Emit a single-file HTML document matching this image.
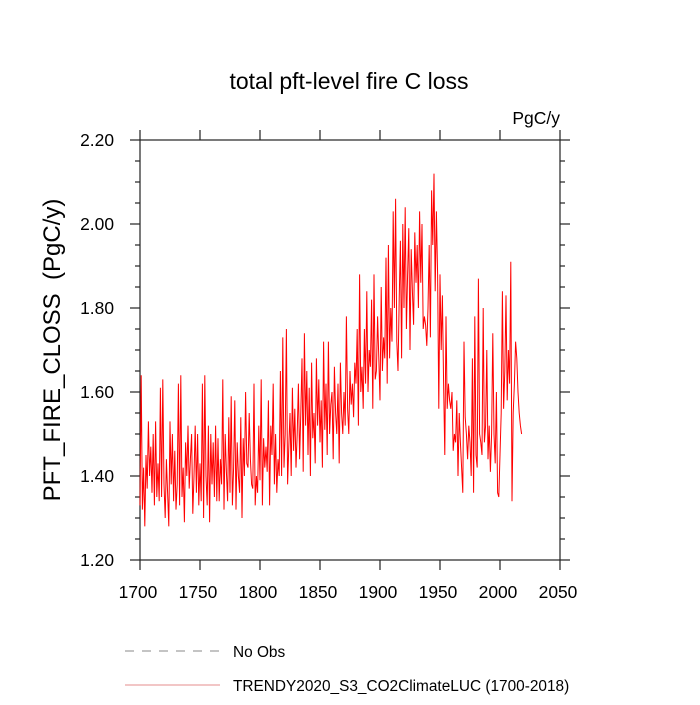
<!DOCTYPE html>
<html><head><meta charset="utf-8"><style>
html,body{margin:0;padding:0;background:#fff;}
svg text{font-family:"Liberation Sans",Arial,sans-serif;}
</style></head><body>
<svg id="chart" width="700" height="700" xmlns="http://www.w3.org/2000/svg">
<text x="349" y="89" font-size="23" text-anchor="middle">total pft-level fire C loss</text>
<text x="560" y="124" font-size="17.5" text-anchor="end">PgC/y</text>
<text transform="translate(60,350) rotate(-90)" font-size="24" text-anchor="middle">PFT_FIRE_CLOSS&#160;&#160;(PgC/y)</text>
<g id="axes"></g>
<g id="series"></g>
<g>
<line x1="125" y1="651" x2="220" y2="651" stroke="#888" stroke-width="1" stroke-dasharray="9,8"/>
<text x="233" y="657" font-size="15.4">No Obs</text>
<line x1="125" y1="685" x2="220" y2="685" stroke="#d66" stroke-width="0.8"/>
<text x="233" y="691" font-size="15.4">TRENDY2020_S3_CO2ClimateLUC (1700-2018)</text>
</g>
</svg>
<script>
const startYear = 1700;
const values = [
1.33,1.64,1.32,1.42,1.28,1.45,1.37,1.53,1.40,1.47,
1.36,1.50,1.33,1.53,1.35,1.43,1.34,1.61,1.35,1.63,
1.38,1.30,1.44,1.36,1.28,1.53,1.38,1.50,1.34,1.46,
1.32,1.38,1.62,1.33,1.64,1.35,1.42,1.29,1.48,1.40,
1.52,1.37,1.44,1.50,1.31,1.40,1.52,1.36,1.50,1.33,
1.43,1.34,1.62,1.30,1.64,1.40,1.33,1.52,1.29,1.50,
1.38,1.48,1.35,1.52,1.34,1.49,1.34,1.44,1.38,1.63,
1.32,1.50,1.41,1.34,1.54,1.36,1.59,1.33,1.42,1.58,
1.32,1.48,1.40,1.36,1.54,1.30,1.49,1.40,1.60,1.43,
1.42,1.55,1.44,1.38,1.37,1.62,1.33,1.40,1.36,1.52,
1.39,1.63,1.33,1.49,1.42,1.47,1.41,1.58,1.33,1.52,
1.45,1.62,1.38,1.50,1.36,1.44,1.40,1.65,1.40,1.73,
1.42,1.50,1.75,1.38,1.47,1.55,1.40,1.61,1.46,1.56,
1.42,1.50,1.62,1.44,1.55,1.68,1.41,1.74,1.52,1.65,
1.45,1.61,1.40,1.67,1.49,1.55,1.43,1.68,1.52,1.63,
1.48,1.58,1.42,1.72,1.51,1.62,1.45,1.72,1.50,1.57,
1.60,1.44,1.66,1.55,1.50,1.62,1.43,1.67,1.55,1.50,
1.60,1.52,1.78,1.56,1.50,1.65,1.57,1.62,1.54,1.67,
1.62,1.75,1.52,1.88,1.60,1.66,1.56,1.75,1.62,1.84,
1.60,1.70,1.66,1.82,1.56,1.88,1.63,1.65,1.78,1.68,
1.58,1.85,1.65,1.73,1.68,1.92,1.62,1.95,1.68,1.80,
1.72,2.03,1.80,2.06,1.72,1.65,1.82,1.96,1.68,2.00,
1.80,2.04,1.75,1.88,1.99,1.70,1.94,1.84,1.76,1.98,
1.86,1.95,1.80,2.03,1.86,2.00,1.75,1.78,1.76,1.71,
1.80,1.95,1.73,2.08,1.95,2.12,1.84,2.03,1.88,1.56,
1.88,1.70,1.83,1.62,1.45,1.78,1.56,1.62,1.58,1.56,
1.60,1.46,1.50,1.48,1.58,1.40,1.55,1.48,1.42,1.36,
1.72,1.54,1.50,1.44,1.52,1.48,1.40,1.68,1.36,1.78,
1.45,1.42,1.87,1.50,1.48,1.45,1.80,1.48,1.52,1.70,
1.44,1.52,1.41,1.50,1.74,1.50,1.43,1.60,1.36,1.35,
1.45,1.55,1.84,1.56,1.65,1.83,1.58,1.70,1.62,1.91,
1.34,1.55,1.62,1.72,1.68,1.60,1.55,1.52,1.50
];
const xTicks = [1700,1750,1800,1850,1900,1950,2000,2050];
const yTicks = [1.20,1.40,1.60,1.80,2.00,2.20];
const xMin=1700,xMax=2050,yMin=1.2,yMax=2.2;
const L=140,R=560,T=140,B=560;
const sx=v=>L+(v-xMin)/(xMax-xMin)*(R-L);
const sy=v=>B-(v-yMin)/(yMax-yMin)*(B-T);
const NS="http://www.w3.org/2000/svg";
const axes=document.getElementById('axes');
function mk(tag,attrs,parent){const e=document.createElementNS(NS,tag);for(const k in attrs)e.setAttribute(k,attrs[k]);parent.appendChild(e);return e;}
const st={stroke:"#222","stroke-width":1.2};
let f=mk('rect',{x:L,y:T,width:R-L,height:B-T,fill:"none",stroke:"#222","stroke-width":1.2},axes);


xTicks.forEach(t=>{
  const x=sx(t);
  let a=mk('line',Object.assign({x1:x,y1:B,x2:x,y2:B+10},st),axes);
  
  
  let b=mk('line',Object.assign({x1:x,y1:T,x2:x,y2:T-10},st),axes);
  
  
  let tx=mk('text',{x:x-2,y:598,"font-size":17.4,"text-anchor":"middle"},axes);
  tx.textContent=t;
  
  
});
for(let v=1.2;v<=2.2001;v+=0.05){
  const y=sy(v);const major=Math.abs(Math.round(v*5)-v*5)<1e-6;
  const len=major?10:5;
  let a=mk('line',Object.assign({x1:L-len,y1:y,x2:L,y2:y},st),axes);
  
  
  let b=mk('line',Object.assign({x1:R,y1:y,x2:R+len,y2:y},st),axes);
  
  
}
yTicks.forEach(t=>{
  let tx=mk('text',{x:114,y:sy(t)+6,"font-size":17.4,"text-anchor":"end"},axes);
  tx.textContent=t.toFixed(2);
  
  
});
const pts=values.map((v,i)=>sx(startYear+i).toFixed(2)+","+sy(v).toFixed(2)).join(" ");
let pl=mk('polyline',{points:pts,fill:"none",stroke:"#ff0000","stroke-width":1,"stroke-linejoin":"miter"},document.getElementById('series'));


</script>
</body></html>
